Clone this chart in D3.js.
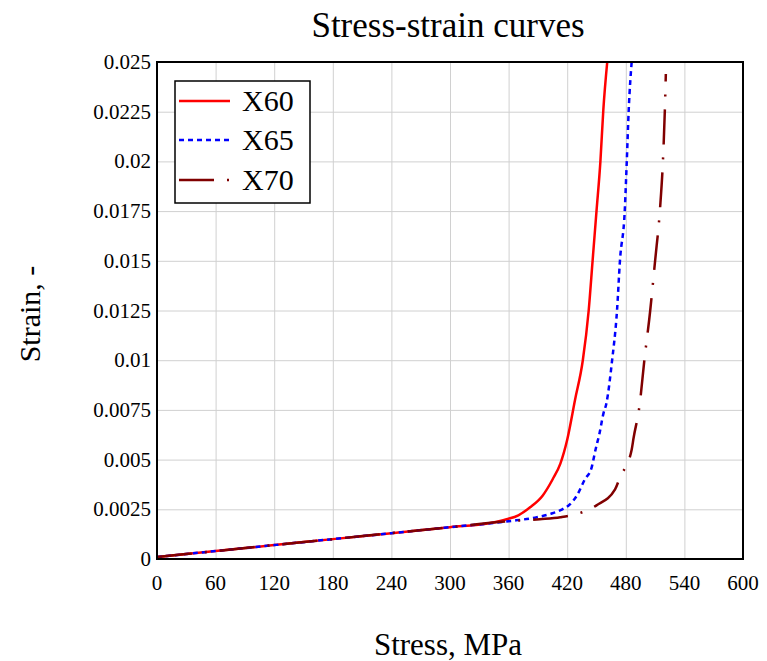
<!DOCTYPE html>
<html>
<head>
<meta charset="utf-8">
<script src="https://cdn.jsdelivr.net/npm/d3@7"></script>
<style>
  body { margin: 0; background: #fff; }
  svg text { font-family: "Liberation Serif", "Times New Roman", serif; fill: #000; }
</style>
</head>
<body>
<div id="chart"></div>
<script>
// datos (stress en MPa, strain adimensional)
var x60Stress = [0, 60, 120, 180, 240, 300, 340, 358, 370, 382, 395, 405, 413, 420, 428, 436, 442, 446, 450, 454, 457, 461];
var x60Strain = [0.0001, 0.0004, 0.0007, 0.001, 0.0013, 0.0016, 0.0018, 0.002, 0.0022, 0.0026, 0.0032, 0.004, 0.0048, 0.006, 0.008, 0.01, 0.0125, 0.015, 0.0175, 0.02, 0.0226, 0.025];

var x65Stress = [0, 60, 120, 180, 240, 300, 360, 389, 405, 415, 423, 430, 438, 445, 449, 453, 457, 460, 466, 471, 474, 479, 481, 483, 486];
var x65Strain = [0.0001, 0.0004, 0.0007, 0.001, 0.0013, 0.0016, 0.0019, 0.0021, 0.0023, 0.0025, 0.00276, 0.0032, 0.004, 0.0046, 0.0055, 0.0063, 0.0073, 0.0078, 0.01, 0.0125, 0.015, 0.0176, 0.02, 0.0226, 0.025];

var x70Stress = [0, 60, 120, 180, 240, 300, 360, 392, 413, 438, 450, 469, 474, 486, 488, 494, 499, 505, 510, 515, 518, 520, 521];
var x70Strain = [0.0001, 0.0004, 0.0007, 0.001, 0.0013, 0.0016, 0.0019, 0.002, 0.0021, 0.0024, 0.0027, 0.0035, 0.0041, 0.0055, 0.0061, 0.0077, 0.01, 0.0125, 0.015, 0.0176, 0.02, 0.0226, 0.0244];

var seriesNames = ["X60", "X65", "X70"];
var xTicks = [0, 60, 120, 180, 240, 300, 360, 420, 480, 540, 600];
var yTicks = [0, 0.0025, 0.005, 0.0075, 0.01, 0.0125, 0.015, 0.0175, 0.02, 0.0225, 0.025];
var yTickLabels = ["0", "0.0025", "0.005", "0.0075", "0.01", "0.0125", "0.015", "0.0175", "0.02", "0.0225", "0.025"];

var width = 767, height = 661;
var margin = {top: 62, right: 24, bottom: 102, left: 157};

var series = [
  {name: seriesNames[0], stress: x60Stress, strain: x60Strain, color: "#ff0000", dash: null, w: 2.5},
  {name: seriesNames[1], stress: x65Stress, strain: x65Strain, color: "#0000ff", dash: "5,4", w: 2.5},
  {name: seriesNames[2], stress: x70Stress, strain: x70Strain, color: "#800000", dash: "35,13,2,13", w: 2.5}
];

var x = d3.scaleLinear().domain([0, 600]).range([margin.left, width - margin.right]);
var y = d3.scaleLinear().domain([0, 0.025]).range([height - margin.bottom, margin.top]);

var svg = d3.select("#chart").append("svg")
  .attr("width", width)
  .attr("height", height);

svg.append("defs").append("clipPath").attr("id", "clip")
  .append("rect")
  .attr("x", margin.left).attr("y", margin.top)
  .attr("width", width - margin.left - margin.right)
  .attr("height", height - margin.top - margin.bottom);

// rejilla
svg.append("g")
  .attr("transform", `translate(0,${height - margin.bottom})`)
  .call(d3.axisBottom(x).tickValues(xTicks).tickSize(-(height - margin.top - margin.bottom)).tickFormat(""))
  .call(g => g.select(".domain").remove())
  .selectAll("line").attr("stroke", "#d0d0d0");

svg.append("g")
  .attr("transform", `translate(${margin.left},0)`)
  .call(d3.axisLeft(y).tickValues(yTicks).tickSize(-(width - margin.left - margin.right)).tickFormat(""))
  .call(g => g.select(".domain").remove())
  .selectAll("line").attr("stroke", "#d0d0d0");

// etiquetas de los ejes (texto propio para usar la fuente serif)
svg.append("g").selectAll("text")
  .data(xTicks)
  .enter().append("text")
  .attr("x", d => x(d))
  .attr("y", height - margin.bottom + 31)
  .attr("text-anchor", "middle")
  .style("font-size", "21px")
  .text(d => d);

svg.append("g").selectAll("text")
  .data(yTicks)
  .enter().append("text")
  .attr("x", margin.left - 6)
  .attr("y", d => y(d) + 7)
  .attr("text-anchor", "end")
  .style("font-size", "21px")
  .text((d, i) => yTickLabels[i]);

// curvas
var line = d3.line()
  .curve(d3.curveMonotoneX)
  .x(d => x(d[0]))
  .y(d => y(d[1]));

svg.append("g").attr("clip-path", "url(#clip)")
  .selectAll("path")
  .data(series)
  .enter().append("path")
  .attr("d", s => line(s.stress.map((v, i) => [v, s.strain[i]])))
  .attr("fill", "none")
  .attr("stroke", s => s.color)
  .attr("stroke-width", s => s.w)
  .attr("stroke-dasharray", s => s.dash);

// marco
svg.append("rect")
  .attr("x", margin.left).attr("y", margin.top)
  .attr("width", width - margin.left - margin.right)
  .attr("height", height - margin.top - margin.bottom)
  .attr("fill", "none")
  .attr("stroke", "#000")
  .attr("stroke-width", 2);

// leyenda
var legend = svg.append("g");
legend.append("rect")
  .attr("x", 175).attr("y", 81)
  .attr("width", 135).attr("height", 122)
  .attr("fill", "#fff")
  .attr("stroke", "#000")
  .attr("stroke-width", 1.5);

var ly = [101, 140, 180];
series.forEach(function(s, i) {
  legend.append("line")
    .attr("x1", 179).attr("x2", 230)
    .attr("y1", ly[i]).attr("y2", ly[i])
    .attr("stroke", s.color)
    .attr("stroke-width", s.w)
    .attr("stroke-dasharray", s.dash);
  legend.append("text")
    .attr("x", 242).attr("y", ly[i] + 10)
    .style("font-size", "30px")
    .text(s.name);
});

// titulos
svg.append("text")
  .attr("x", 448).attr("y", 37)
  .attr("text-anchor", "middle")
  .style("font-size", "35px")
  .text("Stress-strain curves");

svg.append("text")
  .attr("x", 448).attr("y", 655)
  .attr("text-anchor", "middle")
  .style("font-size", "31px")
  .text("Stress, MPa");

svg.append("text")
  .attr("transform", "translate(40,314) rotate(-90)")
  .attr("text-anchor", "middle")
  .style("font-size", "30px")
  .text("Strain, -");
</script>
</body>
</html>
